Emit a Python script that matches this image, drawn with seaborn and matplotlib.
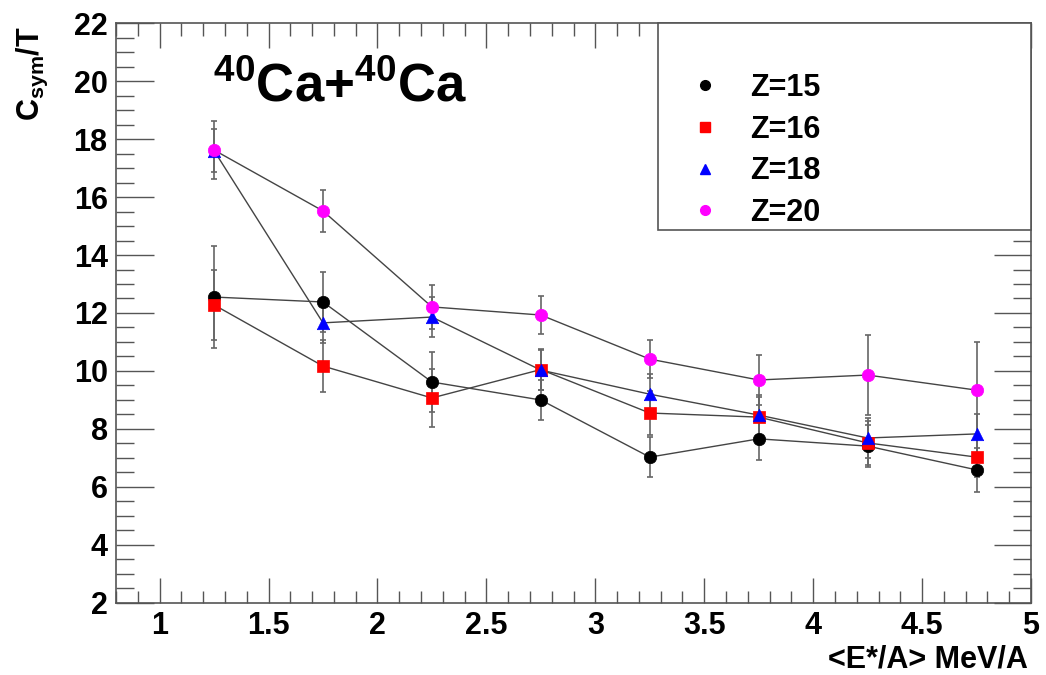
import numpy as np
import pandas as pd
import matplotlib
matplotlib.use("Agg")
import matplotlib.pyplot as plt
import seaborn as sns
from matplotlib.patches import Rectangle
from matplotlib.lines import Line2D
from matplotlib.ticker import MultipleLocator

# ---- data ----
energy = [1.25, 1.75, 2.25, 2.75, 3.25, 3.75, 4.25, 4.75]
labels = ["Z=15", "Z=16", "Z=18", "Z=20"]
z15 = [12.55, 12.38, 9.62, 9.00, 7.03, 7.66, 7.41, 6.59]
z15_err = [1.75, 1.03, 1.04, 0.70, 0.70, 0.73, 0.73, 0.76]
z16 = [12.28, 10.17, 9.07, 10.05, 8.55, 8.41, 7.52, 7.03]
z16_err = [1.20, 0.90, 1.00, 0.70, 0.75, 0.70, 0.75, 0.70]
z18 = [17.60, 11.66, 11.86, 10.03, 9.20, 8.48, 7.69, 7.83]
z18_err = [0.75, 0.70, 0.70, 0.70, 0.70, 0.70, 0.70, 0.70]
z20 = [17.62, 15.52, 12.21, 11.93, 10.41, 9.69, 9.86, 9.34]
z20_err = [1.00, 0.73, 0.76, 0.66, 0.66, 0.86, 1.38, 1.66]

series = [z15, z16, z18, z20]
errors = [z15_err, z16_err, z18_err, z20_err]
colors = ["black", "#ff0000", "#0000ff", "#ff00ff"]
markers = ["o", "s", "^", "o"]

sns.set_theme(style="ticks")
plt.rcParams["font.family"] = ["Liberation Sans", "DejaVu Sans"]
plt.rcParams["font.weight"] = "bold"
plt.rcParams["text.color"] = "black"
plt.rcParams["xtick.labelcolor"] = "black"
plt.rcParams["ytick.labelcolor"] = "black"
plt.rcParams["mathtext.fontset"] = "custom"
plt.rcParams["mathtext.rm"] = "Liberation Sans:bold"
plt.rcParams["mathtext.it"] = "Liberation Sans:bold"
plt.rcParams["mathtext.bf"] = "Liberation Sans:bold"

fig = plt.figure(figsize=(10.46, 6.75), dpi=100)
ax = fig.add_axes([0.1109, 0.1067, 0.8748, 0.8592])

for ys, es, c, m, lab in zip(series, errors, colors, markers, labels):
    df = pd.DataFrame({"E": energy, "C": ys})
    ax.errorbar(energy, ys, yerr=es, fmt="none", ecolor="#666666",
                elinewidth=1.2, capsize=2.5, capthick=1.2, zorder=2)
    sns.lineplot(data=df, x="E", y="C", ax=ax, color="#444444",
                 linewidth=1.0, sort=False, zorder=3, legend=False)
    sns.scatterplot(data=df, x="E", y="C", ax=ax, color=c, marker=m,
                    s=80, edgecolor=c, linewidth=0.5, zorder=4, legend=False)

ax.set_xlim(0.8, 5.0)
ax.set_ylim(2, 22)
ax.xaxis.set_minor_locator(MultipleLocator(0.1))
ax.yaxis.set_major_locator(MultipleLocator(2))
ax.yaxis.set_minor_locator(MultipleLocator(0.5))
ax.set_xticks([1, 1.5, 2, 2.5, 3, 3.5, 4, 4.5, 5])
ax.set_xticklabels(["1", "1.5", "2", "2.5", "3", "3.5", "4", "4.5", "5"])

ax.tick_params(axis="x", which="major", direction="in", length=18, width=1,
               top=True, bottom=True, color="#555555", labelsize=22, pad=6,
               labelcolor="black")
ax.tick_params(axis="x", which="minor", direction="in", length=9, width=1,
               top=True, bottom=True, color="#555555")
ax.tick_params(axis="y", which="major", direction="in", length=27, width=1,
               left=True, right=True, color="#555555", labelsize=22, pad=6,
               labelcolor="black")
ax.tick_params(axis="y", which="minor", direction="in", length=13, width=1,
               left=True, right=True, color="#555555")
for lab in ax.get_xticklabels() + ax.get_yticklabels():
    lab.set_fontweight("bold")
for sp in ax.spines.values():
    sp.set_visible(True)
    sp.set_color("#555555")
    sp.set_linewidth(1.2)
ax.set_xlabel("")
ax.set_ylabel("")

fig.text(1028 / 1046, 1 - 668 / 675, "<E*/A> MeV/A", ha="right", va="baseline",
         fontsize=22, fontweight="bold", color="black")
fig.text(32 / 1046, 1 - 26 / 675, r"$\mathregular{C_{sym}/T}$", rotation=90,
         ha="center", va="top", fontsize=22, fontweight="bold", color="black")

ax.text(0.106, 0.864, r"$\mathregular{^{40}Ca{+}^{40}Ca}$", transform=ax.transAxes,
        ha="left", va="baseline", fontsize=38, fontweight="bold", color="black")

# legend box
ax.add_patch(Rectangle((0.592, 0.643), 0.408, 0.357, transform=ax.transAxes,
                       facecolor="white", edgecolor="#555555", linewidth=1.2,
                       zorder=5, clip_on=False))
handles = [Line2D([0], [0], marker=m, color="none", markerfacecolor=c,
                  markeredgecolor=c, markersize=7, linestyle="none")
           for c, m in zip(colors, markers)]
leg = ax.legend(handles, labels, loc="upper left",
                bbox_to_anchor=(0.61, 0.94), frameon=False,
                prop={"size": 22, "weight": "bold"}, handletextpad=0.97,
                labelspacing=0.38, handlelength=1.0, borderpad=0)
leg.set_zorder(6)
for t in leg.get_texts():
    t.set_color("black")

fig.savefig("out.png", dpi=100, facecolor="white")
